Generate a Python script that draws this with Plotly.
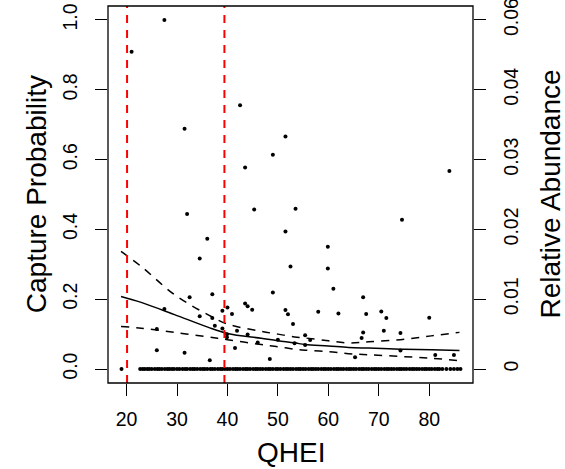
import plotly.graph_objects as go

# ---- data ----
pts_x = [21.0, 27.5, 31.5, 32.0, 42.5, 51.5, 49.0, 43.5, 45.3, 53.5, 51.5, 36.0, 84.0, 74.6,
         34.5, 27.5, 32.5, 37.0, 34.5, 37.0, 37.5, 39.0, 40.0, 40.9, 39.0, 39.9, 39.9, 26.0, 26.0, 31.5, 36.5,
         59.9, 59.9, 52.5, 61.0, 49.0, 43.5, 44.0, 44.9, 51.5, 52.0, 58.0, 62.0, 53.0, 41.9, 44.0, 41.5, 46.0,
         50.0, 53.3, 55.4, 56.4, 55.4, 48.4,
         66.9, 67.5, 70.5, 71.5, 80.0, 66.9, 66.6, 71.0, 74.3, 74.3, 65.3, 81.2, 84.9]
pts_y = [0.909, 1.0, 0.688, 0.444, 0.756, 0.666, 0.614, 0.577, 0.457, 0.459, 0.394, 0.373, 0.567, 0.428,
         0.317, 0.172, 0.206, 0.214, 0.151, 0.146, 0.124, 0.167, 0.176, 0.158, 0.116, 0.100, 0.091, 0.115, 0.054, 0.047, 0.025,
         0.350, 0.288, 0.294, 0.230, 0.219, 0.188, 0.180, 0.170, 0.169, 0.157, 0.164, 0.159, 0.129, 0.110, 0.099, 0.060, 0.076,
         0.084, 0.074, 0.097, 0.083, 0.069, 0.029,
         0.206, 0.158, 0.165, 0.146, 0.147, 0.105, 0.089, 0.110, 0.103, 0.053, 0.034, 0.040, 0.040]

zero_x = [19.0, 22.7, 23.2, 23.6, 24.1, 24.5, 25.0, 25.6, 26.1, 26.5, 27.0, 27.6, 28.1, 28.5, 29.0, 29.4,
          30.0, 30.5, 31.1, 31.6, 32.0, 32.6, 33.1, 33.5, 34.0, 34.6, 35.1, 35.5, 36.0, 36.6, 37.0, 37.5,
          38.1, 38.6, 39.0, 39.5, 40.0, 40.5, 41.1, 41.6, 42.0, 42.5, 43.1, 43.6, 44.0, 44.5, 45.1, 45.6,
          46.0, 46.5, 47.0, 47.6, 48.1, 48.5, 49.0, 49.6, 50.0, 50.5, 51.1, 51.6, 52.0, 52.5, 53.0, 53.6,
          54.1, 54.5, 55.0, 55.5, 56.1, 56.6, 57.0, 57.5, 58.0, 58.6, 59.1, 59.5, 60.0, 60.5, 61.1, 61.6,
          62.0, 62.5, 63.0, 63.6, 64.1, 64.5, 65.0, 65.5, 66.1, 66.6, 67.0, 67.5, 68.0, 68.6, 69.1, 69.5,
          70.0, 70.5, 71.1, 71.6, 72.0, 72.5, 73.0, 73.6, 74.1, 74.5, 75.0, 75.5, 76.1, 76.6, 77.0, 77.5,
          78.0, 78.6, 79.1, 79.5, 80.0, 80.5, 81.1, 81.6, 82.0, 82.6, 83.4, 84.2, 84.9, 85.6, 86.2]
zero_y = [0.0] * len(zero_x)

fit_x = [18.9, 22.9, 29.5, 36.1, 40.0, 46.7, 50.0, 53.3, 55.4, 60.0, 64.0, 68.0, 74.3, 80.4, 86.0]
fit_mid = [0.208, 0.191, 0.156, 0.120, 0.102, 0.088, 0.081, 0.075, 0.070, 0.066, 0.062, 0.060, 0.057, 0.055, 0.053]
fit_hi = [0.337, 0.294, 0.213, 0.156, 0.129, 0.108, 0.100, 0.092, 0.089, 0.081, 0.075, 0.078, 0.084, 0.095, 0.105]
fit_lo = [0.122, 0.117, 0.105, 0.092, 0.084, 0.070, 0.064, 0.057, 0.054, 0.050, 0.044, 0.041, 0.036, 0.031, 0.024]

thresholds = [20.1, 39.4]

left_ticks = [0.0, 0.2, 0.4, 0.6, 0.8, 1.0]
left_labels = ["0.0", "0.2", "0.4", "0.6", "0.8", "1.0"]
right_labels = ["0", "0.01", "0.02", "0.03", "0.04", "0.06"]
x_ticks = [20, 30, 40, 50, 60, 70, 80]

FONT = "Liberation Sans, Arial, Helvetica, sans-serif"
XR = [16.32, 88.68]
YR = [-0.04, 1.04]

fig = go.Figure()
fig.add_trace(go.Scatter(x=zero_x + pts_x, y=zero_y + pts_y, mode="markers",
                         marker=dict(color="black", size=4), showlegend=False, hoverinfo="skip"))
fig.add_trace(go.Scatter(x=fit_x, y=fit_mid, mode="lines", line=dict(color="black", width=1.5, shape="spline"),
                         showlegend=False))
fig.add_trace(go.Scatter(x=fit_x, y=fit_hi, mode="lines",
                         line=dict(color="black", width=1.5, dash="8px,7px", shape="spline"), showlegend=False))
fig.add_trace(go.Scatter(x=fit_x, y=fit_lo, mode="lines",
                         line=dict(color="black", width=1.5, dash="8px,7px", shape="spline"), showlegend=False))
# invisible trace so the right axis renders
fig.add_trace(go.Scatter(x=[XR[0]], y=[0], yaxis="y2", mode="markers", marker=dict(opacity=0),
                         showlegend=False, hoverinfo="skip"))

for t in thresholds:
    fig.add_shape(type="line", xref="x", yref="paper", x0=t, x1=t, y0=0, y1=1,
                  line=dict(color="red", width=2, dash="8px,7px"))
# plot box
fig.add_shape(type="rect", xref="paper", yref="paper", x0=0, x1=1, y0=0, y1=1,
              line=dict(color="black", width=1.3), layer="above")

axis_common = dict(showgrid=False, zeroline=False, showline=False,
                   ticks="outside", ticklen=12, tickwidth=1.3, tickcolor="black",
                   ticklabeloverflow="allow",
                   tickfont=dict(family=FONT, size=19.5, color="black"))

fig.update_layout(
    width=565, height=469,
    margin=dict(l=108, r=92, t=6, b=86, autoexpand=False),
    paper_bgcolor="white", plot_bgcolor="white",
    font=dict(family=FONT, color="black"),
    xaxis=dict(range=XR, tickvals=x_ticks, ticklabelstandoff=7, **axis_common),
    yaxis=dict(range=YR, tickvals=left_ticks, ticktext=left_labels, tickangle=-90,
               ticklabelstandoff=10, **axis_common),
    yaxis2=dict(range=YR, tickvals=left_ticks, ticktext=right_labels, tickangle=-90, overlaying="y",
                side="right", ticklabelstandoff=9, **axis_common),
    annotations=[
        dict(text="QHEI", xref="paper", yref="paper", x=0.5, y=-0.184, xanchor="center", yanchor="middle",
             showarrow=False, font=dict(family=FONT, size=28, color="black")),
        dict(text="Capture Probability", xref="paper", yref="paper", x=(36.7 - 108) / 365, y=0.5,
             xanchor="center", yanchor="middle", textangle=-90, showarrow=False,
             font=dict(family=FONT, size=28, color="black")),
        dict(text="Relative Abundance", xref="paper", yref="paper", x=(550 - 108) / 365, y=0.5,
             xanchor="center", yanchor="middle", textangle=-90, showarrow=False,
             font=dict(family=FONT, size=28, color="black")),
    ],
)

fig.write_html("out.html", config={"displayModeBar": False},
               post_script="document.body.style.margin='0';")
